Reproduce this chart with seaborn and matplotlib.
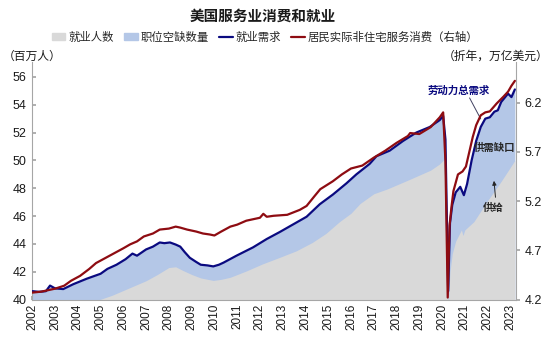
import matplotlib
matplotlib.use("Agg")
import matplotlib.pyplot as plt
import seaborn as sns
import numpy as np
import pandas as pd
from matplotlib.patches import Patch
from matplotlib.lines import Line2D

# Services employment (millions), decimal years
emp_t = [2002.0, 2003.0, 2004.0, 2004.97, 2005.5, 2006.0, 2006.5, 2007.0, 2007.5, 2008.0,
         2008.3, 2008.6, 2009.0, 2009.4, 2009.95, 2010.3, 2010.7, 2011.4, 2012.1, 2012.9,
         2013.6, 2014.3, 2014.9, 2015.5, 2016.0, 2016.4, 2017.0, 2017.6, 2018.6, 2019.5,
         2019.9, 2020.1, 2020.18, 2020.27, 2020.35, 2020.45, 2020.6, 2020.85, 2020.92, 2021.0,
         2021.4, 2022.0, 2022.6, 2023.2]
emp_v = [38.6, 39.0, 39.5, 40.0, 40.3, 40.65, 41.0, 41.35, 41.8, 42.3,
         42.35, 42.1, 41.8, 41.55, 41.37, 41.45, 41.6, 42.05, 42.55, 43.05,
         43.5, 44.1, 44.75, 45.6, 46.2, 46.9, 47.6, 47.95, 48.65, 49.3,
         49.75, 50.1, 47.0, 39.5, 42.0, 43.3, 44.2, 45.0, 44.6, 45.0,
         45.6, 47.1, 48.5, 50.0]

# Labour demand = employment + job openings (millions)
dem_t = [2002.0, 2002.3, 2002.6, 2002.78, 2003.0, 2003.36, 2003.8, 2004.4, 2005.0, 2005.3,
         2005.7, 2006.1, 2006.4, 2006.6, 2007.0, 2007.3, 2007.6, 2007.8, 2008.05, 2008.3,
         2008.5, 2008.7, 2008.92, 2009.2, 2009.4, 2009.7, 2009.95, 2010.2, 2010.4, 2010.97,
         2011.7, 2012.3, 2012.87, 2013.46, 2014.05, 2014.63, 2015.21, 2015.8, 2016.24, 2016.82,
         2017.12, 2017.7, 2018.29, 2018.87, 2019.46, 2019.9, 2020.05, 2020.15, 2020.27, 2020.35,
         2020.45, 2020.6, 2020.8, 2020.96, 2021.1, 2021.3, 2021.5, 2021.7, 2021.9, 2022.1,
         2022.3, 2022.45, 2022.6, 2022.75, 2022.9, 2023.05, 2023.2]
dem_v = [40.6, 40.55, 40.6, 41.0, 40.8, 40.75, 41.1, 41.5, 41.85, 42.2,
         42.5, 42.9, 43.3, 43.15, 43.6, 43.8, 44.1, 44.05, 44.1, 43.95,
         43.8, 43.4, 43.0, 42.7, 42.5, 42.45, 42.38, 42.5, 42.65, 43.15,
         43.75, 44.35, 44.85, 45.4, 45.95, 46.85, 47.55, 48.35, 49.0, 49.75,
         50.3, 50.7, 51.4, 52.0, 52.4, 52.9, 53.2, 51.5, 40.6, 45.5,
         46.8, 47.7, 48.1, 47.5, 48.3, 50.0, 51.4, 52.4, 53.0, 53.1,
         53.5, 53.6, 54.2, 54.5, 54.8, 54.55, 55.1]

# Real non-housing services consumption (SAAR, trillion USD)
con_t = [2002.0, 2002.4, 2002.8, 2003.0, 2003.4, 2003.7, 2004.1, 2004.5, 2004.8, 2005.2,
         2005.6, 2006.0, 2006.3, 2006.6, 2006.9, 2007.3, 2007.6, 2008.0, 2008.3, 2008.5,
         2008.8, 2009.2, 2009.5, 2009.8, 2010.0, 2010.3, 2010.7, 2011.0, 2011.4, 2012.0,
         2012.15, 2012.3, 2012.6, 2013.2, 2013.75, 2014.05, 2014.4, 2014.65, 2015.2, 2015.6,
         2016.0, 2016.5, 2017.0, 2017.5, 2018.0, 2018.5, 2018.6, 2019.0, 2019.5, 2019.9,
         2020.05, 2020.15, 2020.25, 2020.33, 2020.42, 2020.5, 2020.7, 2020.9, 2021.05, 2021.2,
         2021.35, 2021.5, 2021.7, 2021.9, 2022.1, 2022.4, 2022.7, 2022.9, 2023.05, 2023.2]
con_v = [4.27, 4.28, 4.30, 4.31, 4.34, 4.39, 4.44, 4.51, 4.57, 4.62,
         4.67, 4.72, 4.76, 4.79, 4.84, 4.87, 4.91, 4.92, 4.94, 4.93,
         4.91, 4.89, 4.87, 4.86, 4.85, 4.89, 4.94, 4.96, 5.00, 5.03,
         5.07, 5.04, 5.05, 5.06, 5.11, 5.15, 5.25, 5.32, 5.40, 5.47,
         5.53, 5.56, 5.64, 5.71, 5.79, 5.86, 5.89, 5.88, 5.95, 6.05,
         6.10, 5.60, 4.22, 4.95, 5.15, 5.30, 5.47, 5.50, 5.55, 5.70,
         5.85, 5.97, 6.07, 6.10, 6.11, 6.19, 6.26, 6.31, 6.37, 6.42]

years = list(range(2002, 2024))
left_ticks = [40, 42, 44, 46, 48, 50, 52, 54, 56]
right_ticks = [4.2, 4.7, 5.2, 5.7, 6.2]

emp = pd.DataFrame({"t": emp_t, "v": emp_v})
dem = pd.DataFrame({"t": dem_t, "v": dem_v})
con = pd.DataFrame({"t": con_t, "v": con_v})

sns.set_theme(style="white")
plt.rcParams["font.family"] = ["Liberation Sans", "Noto Sans CJK SC", "DejaVu Sans"]
plt.rcParams["axes.unicode_minus"] = False

C_GRAY = "#d9d9d9"
C_BLUEFILL = "#b4c7e7"
C_NAVY = "#0a0a80"
C_RED = "#8e0c12"
C_AXIS = "#a6a6a6"

fig = plt.figure(figsize=(5.5, 3.39), dpi=100)
ax = fig.add_axes([0.0587, 0.1165, 0.8795, 0.7005])
ax2 = ax.twinx()

ax.fill_between(dem["t"], 40, dem["v"], color=C_BLUEFILL, lw=0, zorder=1)
ax.fill_between(emp["t"], 40, emp["v"], color=C_GRAY, lw=0, zorder=2)
sns.lineplot(data=dem, x="t", y="v", ax=ax, color=C_NAVY, lw=1.6, sort=False,
             estimator=None, zorder=3)
sns.lineplot(data=con, x="t", y="v", ax=ax2, color=C_RED, lw=1.6, sort=False,
             estimator=None, zorder=4)

ax.set_xlim(2002, 2023.25)
ax.set_ylim(40, 57.07)
ax2.set_ylim(4.2, 6.611)
ax.set_xlabel("")
ax.set_ylabel("")
ax2.set_ylabel("")

ax.set_xticks(years)
ax.set_xticklabels([str(y) for y in years], rotation=90, fontsize=8.5, color="#1a1a1a")
ax.set_yticks(left_ticks)
ax.set_yticklabels([str(v) for v in left_ticks], fontsize=9, color="#1a1a1a")
ax2.set_yticks(right_ticks)
ax2.set_yticklabels([f"{v:.1f}" for v in right_ticks], fontsize=9, color="#1a1a1a")

for a in (ax, ax2):
    for s in a.spines.values():
        s.set_color(C_AXIS)
        s.set_linewidth(0.8)
    a.spines["top"].set_visible(False)
ax.spines["right"].set_visible(False)
ax2.spines["left"].set_visible(False)
ax2.spines["bottom"].set_visible(False)
ax.tick_params(axis="x", direction="in", length=3, color=C_AXIS, pad=3, bottom=True)
ax.tick_params(axis="y", direction="in", length=3, color=C_AXIS, pad=4, left=True)
ax2.tick_params(axis="y", direction="out", length=3, color=C_AXIS, pad=3, right=True)
ax.grid(False)
ax2.grid(False)

# Annotations
ax.text(2020.73, 54.99, "劳动力总需求", color=C_NAVY, fontsize=7.5, ha="center",
        va="center", fontweight="bold", zorder=6)
ax.plot([2021.21, 2021.70], [54.49, 52.98], color="#404060", lw=0.7, zorder=6)
ax.text(2023.2, 50.88, "供需缺口", color="#262626", fontsize=7.5, ha="right",
        va="center", fontweight="bold", zorder=6)
ax.text(2022.27, 46.58, "供给", color="#262626", fontsize=7.5, ha="center",
        va="center", fontweight="bold", zorder=6)
ax.annotate("", xy=(2022.27, 48.73), xytext=(2022.36, 47.15),
            arrowprops=dict(arrowstyle="-|>", color="#262626", lw=0.7,
                            mutation_scale=6), zorder=6)

# Title, legend and unit labels
fig.text(0.478, 0.95, "美国服务业消费和就业", ha="center", va="center",
         fontsize=10.5, fontweight="bold", color="#1a1a1a")
handles = [Patch(color=C_GRAY), Patch(color=C_BLUEFILL),
           Line2D([], [], color=C_NAVY, lw=1.6), Line2D([], [], color=C_RED, lw=1.6)]
labels = ["就业人数", "职位空缺数量", "就业需求", "居民实际非住宅服务消费（右轴）"]
fig.legend(handles, labels, loc="center", bbox_to_anchor=(0.482, 0.891), ncol=4,
           frameon=False, fontsize=8.2, handlelength=1.2, handleheight=0.5,
           handletextpad=0.25, columnspacing=0.9, borderpad=0)
fig.text(0.005, 0.832, "（百万人）", ha="left", va="center", fontsize=8.5, color="#1a1a1a")
fig.text(0.997, 0.832, "（折年，万亿美元）", ha="right", va="center", fontsize=8.5,
         color="#1a1a1a")

fig.savefig("out.png", dpi=100)
